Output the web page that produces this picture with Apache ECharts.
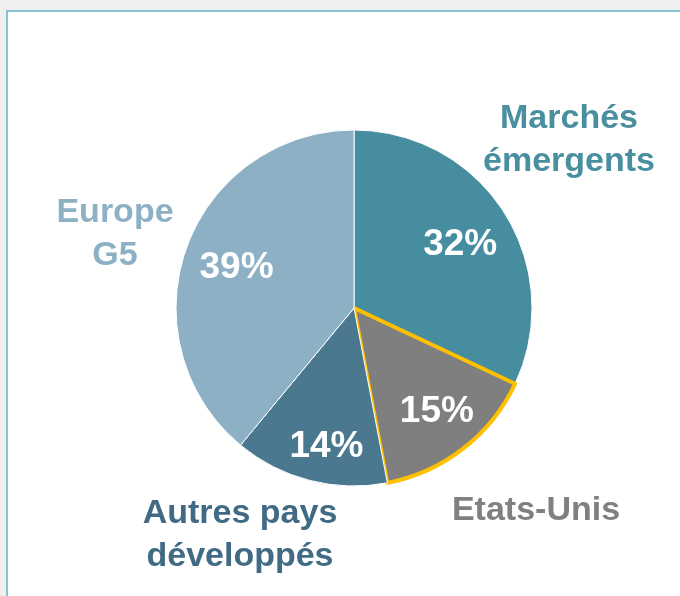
<!DOCTYPE html>
<html>
<head>
<meta charset="utf-8">
<script src="https://cdn.jsdelivr.net/npm/echarts@6/dist/echarts.min.js"></script>
<style>
  html, body { margin: 0; padding: 0; width: 680px; height: 596px; overflow: hidden; background: #f0f0f0; }
  #panel { position: absolute; left: 6px; top: 10px; width: 720px; height: 640px; background: #fff; border: 2px solid #86c4d5; }
  #chart { position: absolute; left: 0; top: 0; width: 680px; height: 596px; }
</style>
</head>
<body>
<div id="panel"></div>
<div id="chart"></div>
<script>
// parts, clockwise from 12 o'clock
const names = ['Marchés\némergents', 'Etats-Unis', 'Autres pays\ndéveloppés', 'Europe\nG5'];
const shares = [32, 15, 14, 39];
const sliceColors = ['#468da0', '#7f7f7f', '#4a788f', '#8db0c4'];
const nameColors = ['#4a8fa0', '#808080', '#416b84', '#8cb0c4'];

// where each outside name sits
const namePos = [[569, 140], [536, 511], [240, 535], [115, 234]];
// small nudges for the percentages
const pctNudge = [[-1, 5], [5, 3], [4, 16], [2, 3]];

const font = "'Liberation Sans', Arial, sans-serif";
const center = [354, 308];

const chart = echarts.init(document.getElementById('chart'));

chart.setOption({
  animation: false,
  series: [
    {
      type: 'pie',
      center: center,
      radius: 178,
      startAngle: 90,
      clockwise: true,
      silent: true,
      data: names.map((n, i) => ({
        name: n,
        value: shares[i],
        itemStyle: i === 1
          ? { color: sliceColors[i], borderColor: '#ffc000', borderWidth: 4 }
          : { color: sliceColors[i], borderColor: '#fff', borderWidth: 1 },
        label: { color: nameColors[i] }
      })),
      label: {
        show: true,
        position: 'outside',
        formatter: '{b}',
        fontFamily: font,
        fontWeight: 'bold',
        fontSize: 34,
        lineHeight: 43,
        align: 'center',
        overflow: 'none'
      },
      labelLine: { show: false },
      labelLayout: function (p) {
        return {
          x: namePos[p.dataIndex][0],
          y: namePos[p.dataIndex][1],
          align: 'center',
          verticalAlign: 'middle'
        };
      }
    },
    {
      // invisible ring, only carries the percentages
      type: 'pie',
      center: center,
      radius: [104, 144],
      startAngle: 90,
      clockwise: true,
      silent: true,
      itemStyle: { color: 'transparent' },
      data: names.map((n, i) => ({ name: n, value: shares[i] })),
      label: {
        show: true,
        position: 'inside',
        formatter: '{c}%',
        color: '#fff',
        fontFamily: font,
        fontWeight: 'bold',
        fontSize: 37
      },
      labelLine: { show: false },
      labelLayout: function (p) {
        return { dx: pctNudge[p.dataIndex][0], dy: pctNudge[p.dataIndex][1] };
      }
    }
  ]
});
</script>
</body>
</html>
